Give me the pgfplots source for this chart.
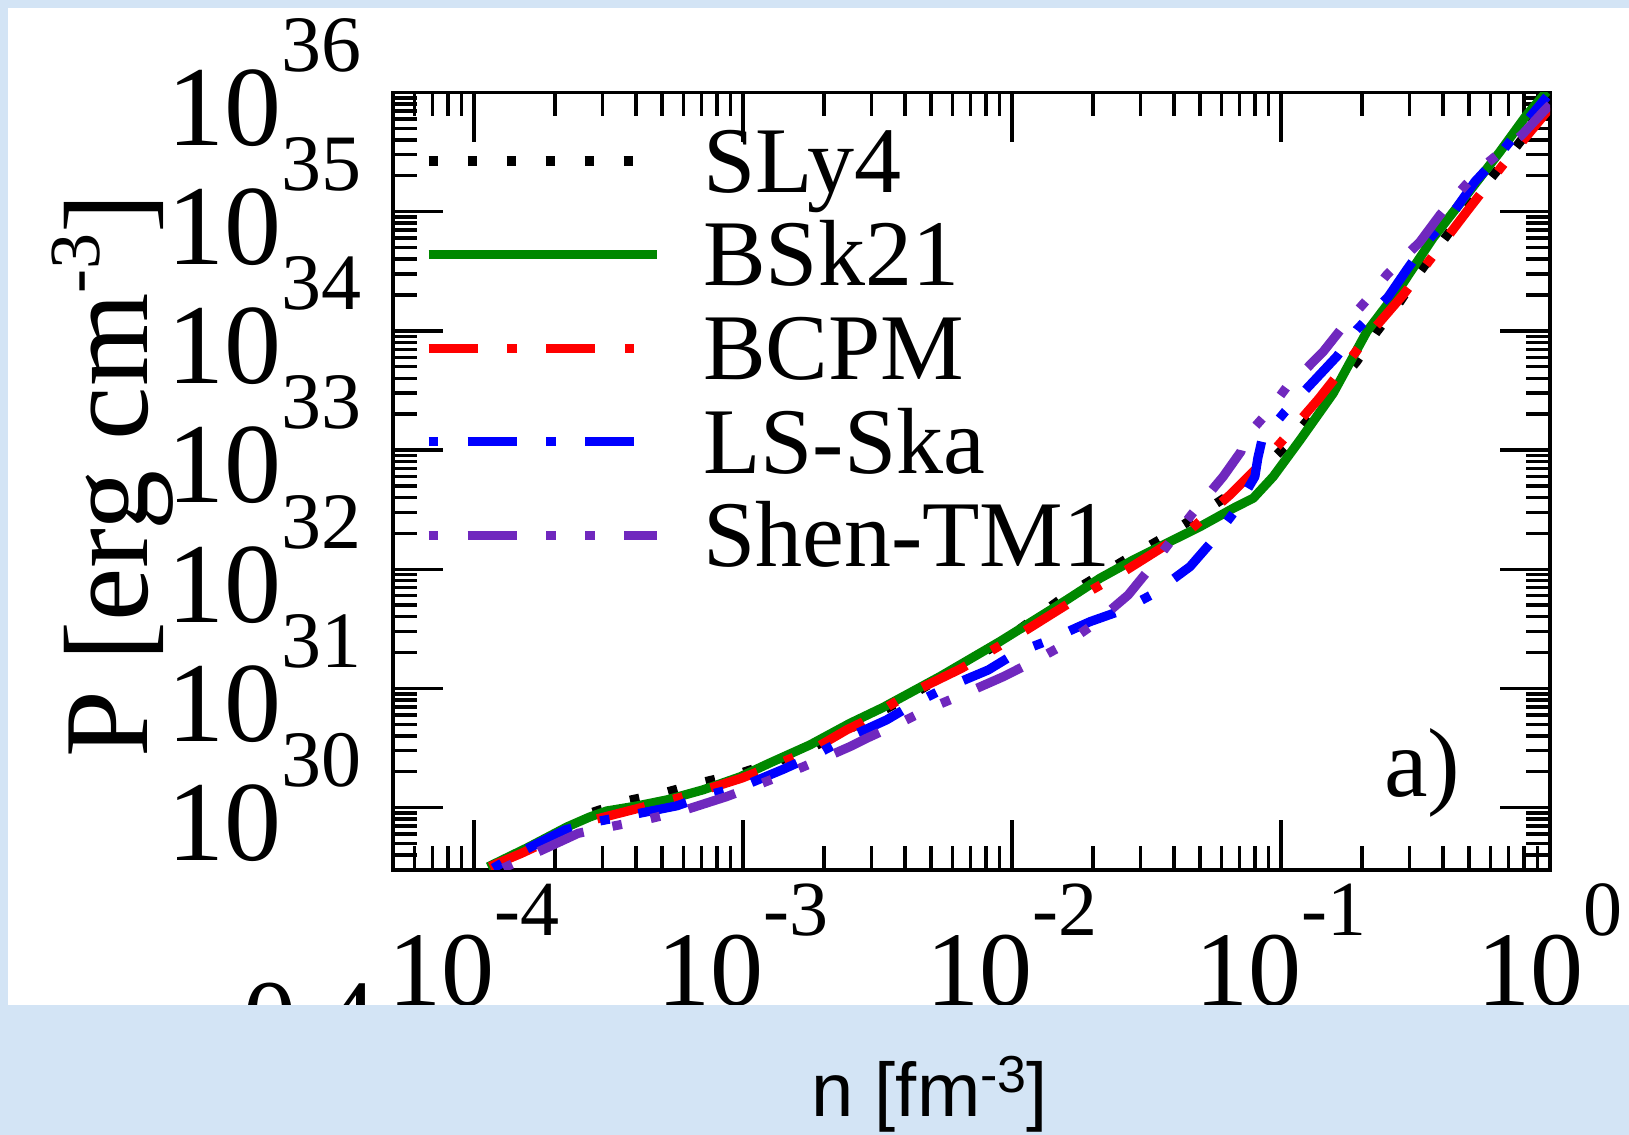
\documentclass[border=0pt]{standalone}
\usepackage{pgfplots}
\pgfplotsset{compat=1.18}
\usepackage{fontspec}
\setmainfont{Liberation Serif}
\newfontfamily\sanslib{Liberation Sans}
\definecolor{bgblue}{RGB}{211,228,245}
\definecolor{bskgreen}{RGB}{0,136,0}
\definecolor{shenpurple}{RGB}{112,40,190}
\newcommand{\tenpowx}[1]{\fontsize{26.5}{26.5}\selectfont 10\raisebox{17.5pt}{\fontsize{19.5}{19.5}\selectfont #1}}
\newcommand{\tenpowy}[1]{\fontsize{28.5}{28.5}\selectfont 10\raisebox{18.5pt}{\fontsize{20}{20}\selectfont #1}}
\begin{document}
\begin{tikzpicture}
\useasboundingbox (0,0) rectangle (407.25pt,283.75pt);
\fill[bgblue] (0,0) rectangle (407.25pt,283.75pt);
\fill[white] (1.9pt,32.5pt) rectangle (407.25pt,281.85pt);
\begin{axis}[
  at={(98.25pt,66.25pt)}, anchor=south west,
  scale only axis, width=289.25pt, height=194.375pt,
  xmode=log, ymode=log, log basis x=10, log basis y=10,
  xmin=5e-5, xmax=1, ymin=3e29, ymax=1e36,
  xtick={1e-4,1e-3,1e-2,1e-1,1},
  ytick={1e30,1e31,1e32,1e33,1e34,1e35,1e36},
  minor xtick={6e-5,7e-5,8e-5,9e-5,
    2e-4,3e-4,4e-4,5e-4,6e-4,7e-4,8e-4,9e-4,
    2e-3,3e-3,4e-3,5e-3,6e-3,7e-3,8e-3,9e-3,
    2e-2,3e-2,4e-2,5e-2,6e-2,7e-2,8e-2,9e-2,
    2e-1,3e-1,4e-1,5e-1,6e-1,7e-1,8e-1,9e-1},
  minor ytick={4e29,5e29,6e29,7e29,8e29,9e29,
    2e30,3e30,4e30,5e30,6e30,7e30,8e30,9e30,
    2e31,3e31,4e31,5e31,6e31,7e31,8e31,9e31,
    2e32,3e32,4e32,5e32,6e32,7e32,8e32,9e32,
    2e33,3e33,4e33,5e33,6e33,7e33,8e33,9e33,
    2e34,3e34,4e34,5e34,6e34,7e34,8e34,9e34,
    2e35,3e35,4e35,5e35,6e35,7e35,8e35,9e35},
  xticklabel={\pgfmathtruncatemacro{\ex}{round(\tick)}\tenpowx{\ex}},
  yticklabel={\pgfmathtruncatemacro{\ex}{round(\tick)}\tenpowy{\ex}},
  xticklabel style={anchor=north, inner sep=0pt, yshift=-3.25pt},
  yticklabel style={anchor=east, inner sep=0pt, xshift=-7.75pt, yshift=2.5pt},
  major tick length=12.5pt, minor tick length=6pt,
  tick style={line width=0.85pt, black},
  minor tick style={line width=0.85pt, black},
  axis line style={line width=0.85pt},
  ylabel={P [erg cm\raisebox{12pt}{\fontsize{18}{18}\selectfont -3}]},
  ylabel style={font=\fontsize{30}{30}\selectfont, at={(rel axis cs:-0.242,0.507)}, anchor=center, inner sep=0pt},
  legend style={draw=none, fill=none, at={(rel axis cs:0.0268,0.972)}, anchor=north west, inner sep=0pt, outer sep=0pt, font=\fontsize{23.5}{23.5}\selectfont, nodes={inner sep=0pt, text height=19.5pt, text depth=3.9pt}, row sep=0pt},
  legend cell align=left,
  legend image code/.code={\draw[#1] (0pt,0pt) -- (57pt,0pt); \path (67.5pt,0pt);},
  every axis plot/.append style={line width=2.3pt, line join=round},
]
\addplot[black, dash pattern=on 2.4pt off 7.35pt] coordinates {
(1.146e-4,3.162e29) (1.614e-4,4.592e29) (2.275e-4,6.761e29) (2.742e-4,9.078e29) (3.750e-4,1.146e30) (5.129e-4,1.337e30) (7.015e-4,1.622e30) (9.616e-4,1.919e30) (1.413e-3,2.55e30) (1.854e-3,3.3e30) (2.328e-3,4.207e30) (4.121e-3,8.531e30) (5.395e-3,1.219e31) (9.419e-3,2.553e31) (1.596e-2,6.081e31) (2.123e-2,8.954e31) (2.825e-2,1.318e32) (3.707e-2,1.875e32) (6.281e-2,4.064e32) (8.241e-2,6.383e32) (1.050e-1,1.104e33) (1.563e-1,3.192e33) (1.910e-1,5.521e33) (2.270e-1,9.840e33) (2.767e-1,1.758e34) (3.289e-1,3.141e34) (4.764e-1,9.705e34) (5.821e-1,1.730e35) (7.096e-1,2.992e35) (8.650e-1,5.333e35) (1.0,7.852e35)
};
\addplot[bskgreen] coordinates {
(1.127e-4,3.18e29) (1.574e-4,4.59e29) (2.218e-4,6.89e29) (2.698e-4,8.36e29) (3.119e-4,9.38e29) (4.036e-4,1.033e30) (5.212e-4,1.161e30) (7.096e-4,1.409e30) (9.75e-4,1.811e30) (1.259e-3,2.371e30) (1.774e-3,3.357e30) (2.500e-3,5.10e30) (3.327e-3,6.95e30) (5.395e-3,1.256e31) (9.016e-3,2.472e31) (1.596e-2,5.521e31) (2.123e-2,8.395e31) (2.825e-2,1.197e32) (3.758e-2,1.652e32) (5.0e-2,2.275e32) (6.653e-2,3.251e32) (7.889e-2,3.945e32) (9.354e-2,5.984e32) (1.178e-1,1.216e33) (1.563e-1,2.992e33) (2.084e-1,9.840e33) (2.767e-1,2.291e34) (3.673e-1,6.012e34) (4.898e-1,1.380e35) (6.516e-1,3.184e35) (8.185e-1,6.471e35) (0.9727,1.016e36)
};
\addplot[red, dash pattern=on 12.3pt off 7.35pt on 2.4pt off 7.35pt] coordinates {
(1.146e-4,3.199e29) (1.503e-4,4.140e29) (2.773e-4,7.889e29) (3.972e-4,9.705e29) (5.998e-4,1.236e30) (9.886e-4,1.766e30) (1.413e-3,2.432e30) (1.854e-3,3.148e30) (2.427e-3,4.487e30) (2.761e-3,5.164e30) (4.064e-3,8.810e30) (6.501e-3,1.476e31) (1.143e-2,3.141e31) (1.690e-2,5.458e31) (2.594e-2,9.484e31) (4.592e-2,2.138e32) (6.457e-2,4.198e32) (9.100e-2,9.099e32) (1.377e-1,2.667e33) (1.858e-1,6.281e33) (2.198e-1,1.019e34) (2.844e-1,2.0e34) (3.707e-1,4.375e34) (4.955e-1,1.033e35) (6.637e-1,2.415e35) (9.183e-1,5.875e35) (1.0,7.413e35)
};
\addplot[blue, dash pattern=on 2.4pt off 7.35pt on 12.3pt off 7.35pt] coordinates {
(1.180e-4,3.105e29) (1.503e-4,4.276e29) (2.178e-4,6.501e29) (2.858e-4,7.638e29) (3.855e-4,8.690e29) (5.675e-4,1.035e30) (7.430e-4,1.279e30) (9.886e-4,1.500e30) (1.413e-3,2.099e30) (1.854e-3,2.767e30) (2.500e-3,3.945e30) (3.420e-3,5.445e30) (4.355e-3,7.516e30) (5.636e-3,1.005e31) (8.166e-3,1.429e31) (1.040e-2,1.995e31) (1.384e-2,2.553e31) (1.644e-2,3.055e31) (1.950e-2,3.631e31) (2.594e-2,4.560e31) (3.350e-2,6.209e31) (4.592e-2,1.052e32) (5.534e-2,1.706e32) (6.653e-2,2.951e32) (7.998e-2,5.984e32) (8.204e-2,8.590e32) (8.511e-2,1.233e33) (1.035e-1,2.099e33) (1.318e-1,3.750e33) (1.611e-1,6.081e33) (1.910e-1,1.019e34) (2.506e-1,1.936e34) (2.931e-1,3.243e34) (3.483e-1,5.598e34) (4.436e-1,1.033e35) (5.260e-1,1.786e35) (6.252e-1,2.716e35) (7.962e-1,5.333e35) (0.9727,9.226e35)
};
\addplot[shenpurple, dash pattern=on 2.4pt off 7.35pt on 12.3pt off 7.35pt on 2.4pt off 7.35pt] coordinates {
(1.285e-4,3.105e29) (1.687e-4,4.140e29) (2.443e-4,6.095e29) (3.228e-4,6.934e29) (4.426e-4,7.998e29) (5.834e-4,9.268e29) (8.690e-4,1.236e30) (1.109e-3,1.521e30) (1.517e-3,2.004e30) (1.991e-3,2.594e30) (2.500e-3,3.251e30) (2.884e-3,3.819e30) (3.707e-3,4.943e30) (4.955e-3,6.823e30) (6.501e-3,8.810e30) (9.290e-3,1.256e31) (1.199e-2,1.679e31) (1.596e-2,2.393e31) (2.037e-2,3.524e31) (2.704e-2,6.081e31) (3.258e-2,1.019e32) (3.926e-2,1.762e32) (4.721e-2,3.000e32) (6.095e-2,5.984e32) (7.096e-2,9.705e32) (7.278e-2,1.233e33) (8.974e-2,2.099e33) (1.064e-1,3.516e33) (1.178e-1,4.266e33) (1.435e-1,6.683e33) (1.683e-1,1.052e34) (2.084e-1,1.816e34) (2.472e-1,2.944e34) (3.289e-1,5.598e34) (3.899e-1,9.376e34) (4.797e-1,1.622e35) (5.728e-1,2.466e35) (7.852e-1,4.395e35) (9.572e-1,7.129e35) (1.0,7.852e35)
};
\legend{SLy4,BSk21,BCPM,LS-Ska,Shen-TM1}
\node[anchor=base, inner sep=0pt, font=\fontsize{24.5}{24.5}\selectfont] at (rel axis cs:0.8898,0.094) {a)};
\end{axis}
\node[anchor=base east, inner sep=0pt, font=\fontsize{26.5}{26.5}\selectfont] at (94.25pt,20.35pt) {0.4};
\fill[bgblue] (0,0) rectangle (407.25pt,32.5pt);
\node[anchor=base, inner sep=0pt, font=\sanslib\fontsize{19}{19}\selectfont] at (232.4pt,4.5pt) {n [fm\raisebox{6pt}{\fontsize{13}{13}\selectfont -3}]};
\end{tikzpicture}
\end{document}
